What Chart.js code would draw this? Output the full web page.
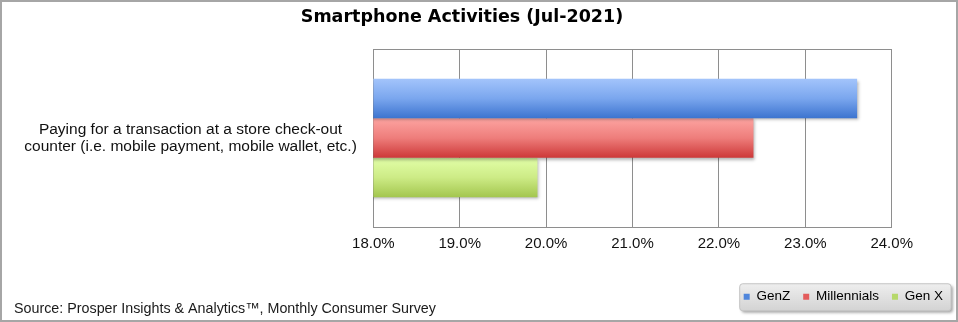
<!DOCTYPE html>
<html lang="en">
<head>
  <meta charset="UTF-8" />
  <title>Smartphone Activities (Jul-2021)</title>
  <style>
    body {
      margin: 0;
      padding: 0;
      background: #fff;
    }
    #chart {
      display: block;
    }
  </style>
</head>
<body>
  <canvas id="chart" width="958" height="322"></canvas>

  <script src="https://cdn.jsdelivr.net/npm/chart.js"></script>
  <script>
    const chartTitle = "Smartphone Activities (Jul-2021)";
    const sourceNote = "Source: Prosper Insights & Analytics\u2122, Monthly Consumer Survey";

    // one activity, split over two lines
    const categories = [
      ["Paying for a transaction at a store check-out", "counter (i.e. mobile payment, mobile wallet, etc.)"]
    ];
    const seriesNames = ["GenZ", "Millennials", "Gen X"];
    const genZ = [23.6];
    const millennials = [22.4];
    const genX = [19.9];
    const xMin = 18;
    const xMax = 24;

    // light top -> dark bottom, like the old office bar fills
    const fills = [
      { solid: "#4f86dc", stops: ["#a3c4fb", "#7aa6ee", "#3c74cf"] },
      { solid: "#e35b5b", stops: ["#fda4a1", "#ee7d7b", "#cd3838"] },
      { solid: "#b6d86a", stops: ["#e2ffa8", "#cdeb86", "#a3c64e"] }
    ];

    const frame = {
      id: "frame",
      beforeDraw(chart) {
        const ctx = chart.ctx;
        ctx.save();
        ctx.fillStyle = "#fff";
        ctx.fillRect(0, 0, chart.width, chart.height);

        // grey box behind the legend entries
        const boxes = chart.legend && chart.legend.legendHitBoxes;
        if (boxes && boxes.length) {
          const first = boxes[0];
          const last = boxes[boxes.length - 1];
          const cy = first.top + first.height / 2;
          const x0 = first.left - 4;
          const x1 = last.left + last.width + 8;
          const y0 = cy - 13;
          const y1 = cy + 14;
          ctx.shadowColor = "rgba(0,0,0,0.35)";
          ctx.shadowBlur = 3;
          ctx.shadowOffsetX = 2;
          ctx.shadowOffsetY = 2;
          const g = ctx.createLinearGradient(0, y0, 0, y1);
          g.addColorStop(0, "#eeeeee");
          g.addColorStop(1, "#d3d3d3");
          ctx.fillStyle = g;
          ctx.beginPath();
          ctx.roundRect(x0, y0, x1 - x0, y1 - y0, 3);
          ctx.fill();
          ctx.shadowColor = "transparent";
          ctx.strokeStyle = "#c4c4c4";
          ctx.lineWidth = 1;
          ctx.stroke();
        }
        ctx.restore();
      },
      beforeDatasetsDraw(chart) {
        const ctx = chart.ctx;
        chart.data.datasets.forEach((ds, i) => {
          const meta = chart.getDatasetMeta(i);
          meta.data.forEach(bar => {
            const top = bar.y - bar.height / 2;
            const g = ctx.createLinearGradient(0, top, 0, top + bar.height);
            const s = fills[i].stops;
            g.addColorStop(0, s[0]);
            g.addColorStop(0.5, s[1]);
            g.addColorStop(1, s[2]);
            bar.options.backgroundColor = g;
          });
        });
        ctx.save();
        ctx.shadowColor = "rgba(0,0,0,0.3)";
        ctx.shadowBlur = 3;
        ctx.shadowOffsetX = 2;
        ctx.shadowOffsetY = 2;
      },
      afterDatasetsDraw(chart) {
        chart.ctx.restore();
      },
      afterDraw(chart) {
        const ctx = chart.ctx;
        ctx.save();
        ctx.fillStyle = "#000";
        ctx.textBaseline = "middle";
        ctx.textAlign = "center";
        ctx.font = "bold 17.5px 'DejaVu Sans'";
        ctx.fillText(chartTitle, 462, 17.5);

        ctx.textAlign = "left";
        ctx.fillStyle = "#1a1a1a";
        ctx.font = "14.3px 'Liberation Sans'";
        ctx.fillText(sourceNote, 14, 309.5);

        ctx.strokeStyle = "#a6a6a6";
        ctx.lineWidth = 2;
        ctx.strokeRect(1, 1, chart.width - 2, chart.height - 2);
        ctx.restore();
      }
    };

    const gridColor = "#8e8e8e";

    new Chart(document.getElementById("chart"), {
      type: "bar",
      data: {
        labels: categories,
        datasets: [
          { label: seriesNames[0], data: genZ, backgroundColor: fills[0].solid },
          { label: seriesNames[1], data: millennials, backgroundColor: fills[1].solid },
          { label: seriesNames[2], data: genX, backgroundColor: fills[2].solid }
        ]
      },
      options: {
        indexAxis: "y",
        responsive: false,
        animation: false,
        devicePixelRatio: 1,
        categoryPercentage: 0.665,
        barPercentage: 1,
        borderWidth: 0,
        layout: {
          padding: { top: 49, left: 0, right: 2, bottom: 8.5 }
        },
        scales: {
          x: {
            min: xMin,
            max: xMax,
            grid: { color: gridColor, drawTicks: false },
            border: { color: gridColor },
            ticks: {
              stepSize: 1,
              padding: 8,
              color: "#111",
              font: { family: "'Liberation Sans'", size: 15 },
              callback: v => v.toFixed(1) + "%"
            },
            afterFit(scale) { scale.height = 50; }
          },
          y: {
            grid: { color: gridColor, drawTicks: false },
            border: { color: gridColor },
            ticks: {
              crossAlign: "center",
              padding: 16.5,
              color: "#111",
              font: { family: "'Liberation Sans'", size: 15.5, lineHeight: 1.1 }
            },
            afterFit(scale) { scale.width = 373.3; }
          },
          // empty strip that keeps the plot clear of the right edge
          spacer: {
            type: "linear",
            position: "right",
            display: true,
            grid: { display: false },
            border: { display: false },
            ticks: { display: false },
            afterFit(scale) { scale.width = 64.3; }
          }
        },
        plugins: {
          title: { display: false },
          tooltip: { enabled: false },
          legend: {
            position: "bottom",
            align: "end",
            labels: {
              boxWidth: 6,
              boxHeight: 6,
              padding: 13,
              color: "#111",
              font: { family: "'Liberation Sans'", size: 13.5 },
              generateLabels(chart) {
                return chart.data.datasets.map((ds, i) => ({
                  text: ds.label,
                  fillStyle: fills[i].solid,
                  strokeStyle: fills[i].solid,
                  lineWidth: 0,
                  hidden: false,
                  datasetIndex: i
                }));
              }
            }
          }
        }
      },
      plugins: [frame]
    });
  </script>
</body>
</html>
